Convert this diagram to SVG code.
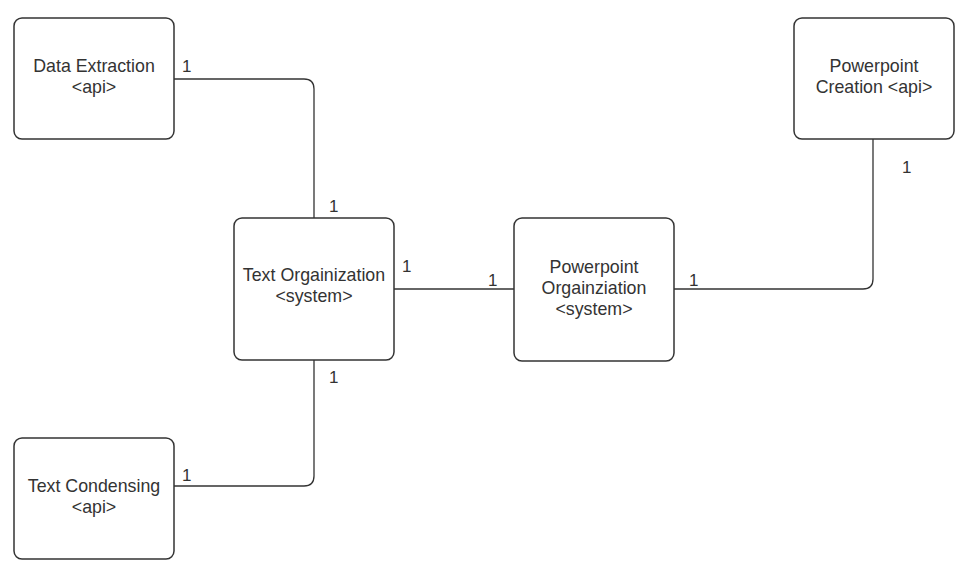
<svg xmlns="http://www.w3.org/2000/svg" width="974" height="574" viewBox="0 0 974 574">
<style>
.box{fill:#ffffff;stroke:#333333;stroke-width:1.5}
.lbl{font-family:"Liberation Sans",Arial,sans-serif;font-size:17.8px;fill:#333333;text-anchor:middle}
.num{font-family:"Liberation Sans",Arial,sans-serif;font-size:17px;fill:#333333}
.con{fill:none;stroke:#333333;stroke-width:1.3}
</style>
<rect width="974" height="574" fill="#ffffff"/>
<g id="connectors">
<path class="con" d="M174,79 H304 Q314,79 314,89 V218"/>
<path class="con" d="M314,360 V476 Q314,486 304,486 H174"/>
<path class="con" d="M394,289 H514"/>
<path class="con" d="M674,289 H863 Q873,289 873,279 V139"/>
<text class="num" x="182" y="72">1</text>
<text class="num" x="329" y="212">1</text>
<text class="num" x="402" y="272">1</text>
<text class="num" x="488" y="286">1</text>
<text class="num" x="689" y="286">1</text>
<text class="num" x="902" y="173">1</text>
<text class="num" x="329" y="383">1</text>
<text class="num" x="182" y="481">1</text>
</g>
<g id="data-extraction">
<rect class="box" x="14" y="18" width="160" height="121" rx="8"/>
<text class="lbl" x="94" y="72">Data Extraction</text>
<text class="lbl" x="94" y="93">&lt;api&gt;</text>
</g>
<g id="text-organization">
<rect class="box" x="234" y="218" width="160" height="142" rx="8"/>
<text class="lbl" x="314" y="281">Text Orgainization</text>
<text class="lbl" x="314" y="302">&lt;system&gt;</text>
</g>
<g id="powerpoint-organization">
<rect class="box" x="514" y="218" width="160" height="143" rx="8"/>
<text class="lbl" x="594" y="273">Powerpoint</text>
<text class="lbl" x="594" y="294">Orgainziation</text>
<text class="lbl" x="594" y="315">&lt;system&gt;</text>
</g>
<g id="powerpoint-creation">
<rect class="box" x="794" y="18" width="160" height="121" rx="8"/>
<text class="lbl" x="874" y="72">Powerpoint</text>
<text class="lbl" x="874" y="93">Creation &lt;api&gt;</text>
</g>
<g id="text-condensing">
<rect class="box" x="14" y="438" width="160" height="121" rx="8"/>
<text class="lbl" x="94" y="492">Text Condensing</text>
<text class="lbl" x="94" y="513">&lt;api&gt;</text>
</g>
</svg>
